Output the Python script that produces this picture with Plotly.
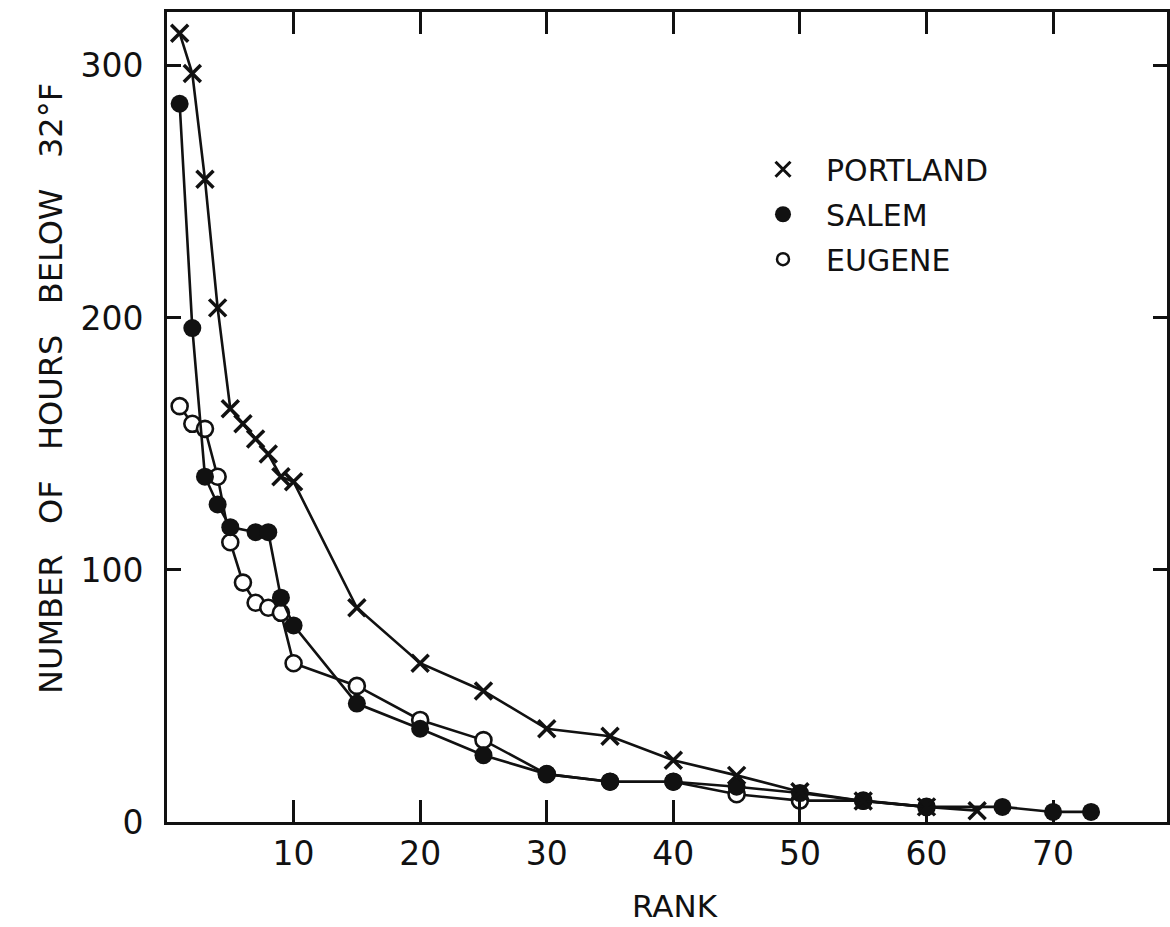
import plotly.graph_objects as go

# ---- data ----
portland_rank = [1, 2, 3, 4, 5, 6, 7, 8, 9, 10, 15, 20, 25, 30, 35, 40, 45, 50, 55, 60, 64]
portland_hours = [313, 297, 255, 204, 164, 158, 152, 146, 137, 135, 85, 63, 52, 37, 34, 24.5, 18.5, 12, 8.3, 6, 4.5]

salem_rank = [1, 2, 3, 4, 5, 7, 8, 9, 10, 15, 20, 25, 30, 35, 40, 45, 50, 55, 60, 66, 70, 73]
salem_hours = [285, 196, 137, 126, 117, 115, 115, 89, 78, 47, 37, 26.5, 19, 16, 16, 14, 11.5, 8.3, 6, 6, 4, 4]

eugene_rank = [1, 2, 3, 4, 5, 6, 7, 8, 9, 10, 15, 20, 25, 30, 35, 40, 45, 50, 55, 60]
eugene_hours = [165, 158, 156, 137, 111, 95, 87, 85, 83, 63, 54, 40.5, 32.5, 19, 16, 16, 11, 8.5, 8.5, 6]

x_ticks = [10, 20, 30, 40, 50, 60, 70]
y_ticks = [0, 100, 200, 300]
legend_names = ["PORTLAND", "SALEM", "EUGENE"]

FONT = "DejaVu Sans"
INK = "#111111"

fig = go.Figure()

line_style = dict(color=INK, width=2.6)

fig.add_trace(go.Scatter(
    x=eugene_rank, y=eugene_hours, mode="lines+markers", showlegend=False,
    line=line_style,
    marker=dict(symbol="circle", size=16, color="white", line=dict(color=INK, width=2.6)),
))
fig.add_trace(go.Scatter(
    x=salem_rank, y=salem_hours, mode="lines+markers", showlegend=False,
    line=line_style,
    marker=dict(symbol="circle", size=18, color=INK, line=dict(color=INK, width=0)),
))
fig.add_trace(go.Scatter(
    x=portland_rank, y=portland_hours, mode="lines+markers", showlegend=False,
    line=line_style,
    marker=dict(symbol="x-thin", size=17, color=INK, line=dict(color=INK, width=3.5)),
))

# legend entries (marker only)
legend_markers = [
    dict(symbol="x-thin", size=15, color=INK, line=dict(color=INK, width=3)),
    dict(symbol="circle", size=16, color=INK, line=dict(color=INK, width=0)),
    dict(symbol="circle", size=12, color="white", line=dict(color=INK, width=2.5)),
]
for i, (name, mk) in enumerate(zip(legend_names, legend_markers)):
    fig.add_trace(go.Scatter(
        x=[None], y=[None], mode="markers", name=name, marker=mk,
        legendgroup=f"g{i}", showlegend=True,
    ))

axis_common = dict(
    showline=True, linecolor=INK, linewidth=3, mirror="ticks",
    ticks="inside", tickcolor=INK, tickwidth=3,
    showgrid=False, zeroline=False,
    tickfont=dict(family=FONT, size=33, color=INK),
)

fig.update_xaxes(
    range=[0, 79], tickvals=x_ticks, ticktext=[str(v) for v in x_ticks],
    ticklen=22, ticklabelstandoff=0,
    **axis_common,
)
fig.update_yaxes(
    range=[0, 321.4], tickvals=y_ticks, ticktext=[str(v) for v in y_ticks],
    ticklen=14, ticklabelstandoff=14,
    **axis_common,
)

sp = "\u00a0" * 3
fig.add_annotation(
    text=sp.join(["NUMBER", "OF", "HOURS", "BELOW", "32°F"]),
    xref="paper", yref="paper", x=-0.1167, y=0.535,
    xanchor="center", yanchor="middle", textangle=-90, showarrow=False,
    font=dict(family=FONT, size=32, color=INK),
)
fig.add_annotation(
    text="RANK",
    xref="paper", yref="paper", x=0.5075, y=-0.104,
    xanchor="center", yanchor="middle", showarrow=False,
    font=dict(family=FONT, size=31, color=INK),
)

fig.update_layout(
    width=1170, height=927,
    margin=dict(l=167, r=0, t=12, b=105),
    paper_bgcolor="white", plot_bgcolor="white",
    legend=dict(
        x=0.573, y=0.838, xanchor="left", yanchor="top",
        font=dict(family=FONT, size=30, color=INK),
        bgcolor="rgba(0,0,0,0)", tracegroupgap=3, itemsizing="trace",
        itemwidth=76,
    ),
)

fig.write_html("out.html")
